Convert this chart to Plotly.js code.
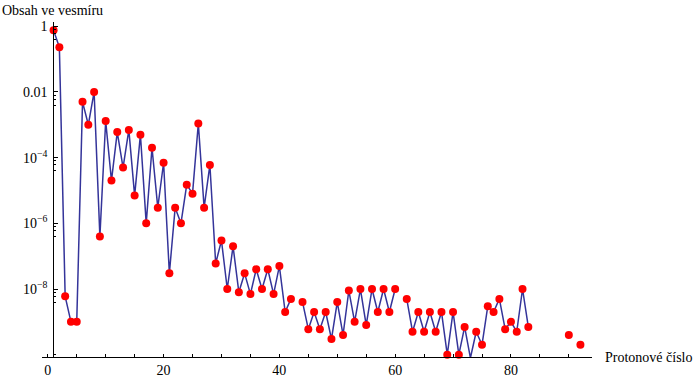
<!DOCTYPE html>
<html>
<head>
<meta charset="utf-8">
<script src="https://cdn.plot.ly/plotly-3.0.1.min.js"></script>
<style>html,body{margin:0;padding:0;background:#fff;}#chart{width:700px;height:382px;}</style>
</head>
<body>
<div id="chart"></div>
<script>
// Proton numbers (null = element without value, breaks the line)
const protonNumbers = [
  1,2,3,4,5,6,7,8,9,10,
  11,12,13,14,15,16,17,18,19,20,
  21,22,23,24,25,26,27,28,29,30,
  31,32,33,34,35,36,37,38,39,40,
  41,42,43,44,45,46,47,48,49,50,
  51,52,53,54,55,56,57,58,59,60,
  61,62,63,64,65,66,67,68,69,70,
  71,72,73,74,75,76,77,78,79,80,
  81,82,83,84,85,86,87,88,89,90,
  91,92
];
// Abundance in the universe (mass fraction)
const abundance = [
  0.75, 0.23, 6e-9, 1e-9, 1e-9, 5e-3, 1e-3, 1e-2, 4e-7, 1.3e-3,
  2e-5, 6e-4, 5e-5, 7e-4, 7e-6, 5e-4, 1e-6, 2e-4, 3e-6, 7e-5,
  3e-8, 3e-6, 1e-6, 1.5e-5, 8e-6, 1.1e-3, 3e-6, 6e-5, 6e-8, 3e-7,
  1e-8, 2e-7, 8e-9, 3e-8, 7e-9, 4e-8, 1e-8, 4e-8, 7e-9, 5e-8,
  2e-9, 5e-9, null, 4e-9, 6e-10, 2e-9, 6e-10, 2e-9, 3e-10, 4e-9,
  4e-10, 9e-9, 1e-9, 1e-8, 8e-10, 1e-8, 2e-9, 1e-8, 2e-9, 1e-8,
  null, 5e-9, 5e-10, 2e-9, 5e-10, 2e-9, 5e-10, 2e-9, 1e-10, 2e-9,
  1e-10, 7e-10, 8e-11, 5e-10, 2e-10, 3e-9, 2e-9, 5e-9, 6e-10, 1e-9,
  5e-10, 1e-8, 7e-10, null, null, null, null, null, null, 4e-10,
  null, 2e-10
];
const xTickVals = [0,20,40,60,80];
const xTickText = ["0","20","40","60","80"];
const xMinorVals = [5,10,15,25,30,35,45,50,55,65,70,75,85,90];
const yTickVals = [1, 0.01, 1e-4, 1e-6, 1e-8];
const yTickText = ["1", "0.01", "10<sup>\u22124</sup>", "10<sup>\u22126</sup>", "10<sup>\u22128</sup>"];
const yMinorVals = [0.8,0.6,0.4, 0.008,0.006,0.004, 8e-5,6e-5,4e-5, 8e-7,6e-7,4e-7, 8e-9,6e-9,4e-9, 1e-10, 8e-11,6e-11];

const serif = "'Liberation Serif', 'Times New Roman', serif";

const traces = [
  {
    x: protonNumbers, y: abundance, type: 'scatter', mode: 'lines',
    line: {color: '#34349a', width: 1.5}, connectgaps: false,
    hoverinfo: 'skip', showlegend: false
  },
  {
    x: protonNumbers, y: abundance, type: 'scatter', mode: 'markers',
    marker: {color: '#ff0000', size: 8}, showlegend: false, cliponaxis: false
  }
];

const layout = {
  width: 700, height: 382,
  margin: {l: 42, r: 108, t: 22, b: 25},
  paper_bgcolor: '#fff', plot_bgcolor: '#fff',
  font: {family: serif, size: 14, color: '#000'},
  showlegend: false,
  xaxis: {
    range: [-1, 94], showgrid: false, zeroline: false,
    showline: true, linecolor: '#000', linewidth: 1,
    ticks: 'inside', ticklen: 3, tickcolor: '#000',
    tickmode: 'array', tickvals: xTickVals, ticktext: xTickText,
    tickfont: {family: serif, size: 14, color: '#000'},
    minor: {tickmode: 'array', tickvals: xMinorVals, ticks: 'inside', ticklen: 3, tickcolor: '#000', showgrid: false}
  },
  yaxis: {
    type: 'log', range: [-10.07, 0.13],
    anchor: 'free', position: 0.0205,
    showgrid: false, zeroline: false,
    showline: true, linecolor: '#000', linewidth: 1,
    ticks: 'inside', ticklen: 4, tickcolor: '#000',
    tickmode: 'array', tickvals: yTickVals, ticktext: yTickText,
    tickfont: {family: serif, size: 14, color: '#000'},
    ticklabelstandoff: 3,
    minor: {tickmode: 'array', tickvals: yMinorVals, ticks: 'inside', ticklen: 2, tickcolor: '#000', showgrid: false}
  },
  annotations: [
    {text: 'Obsah ve vesmíru', xref: 'paper', yref: 'paper',
     x: -0.0764, y: (357 - 10) / 335, xanchor: 'left', yanchor: 'middle',
     showarrow: false, font: {family: serif, size: 14, color: '#000'}},
    {text: 'Protonové číslo', xref: 'paper', yref: 'paper',
     x: (603 - 42) / 550, y: 0, xanchor: 'left', yanchor: 'middle',
     showarrow: false, font: {family: serif, size: 14, color: '#000'}}
  ]
};

Plotly.newPlot('chart', traces, layout, {displayModeBar: false, staticPlot: true});
</script>
</body>
</html>
